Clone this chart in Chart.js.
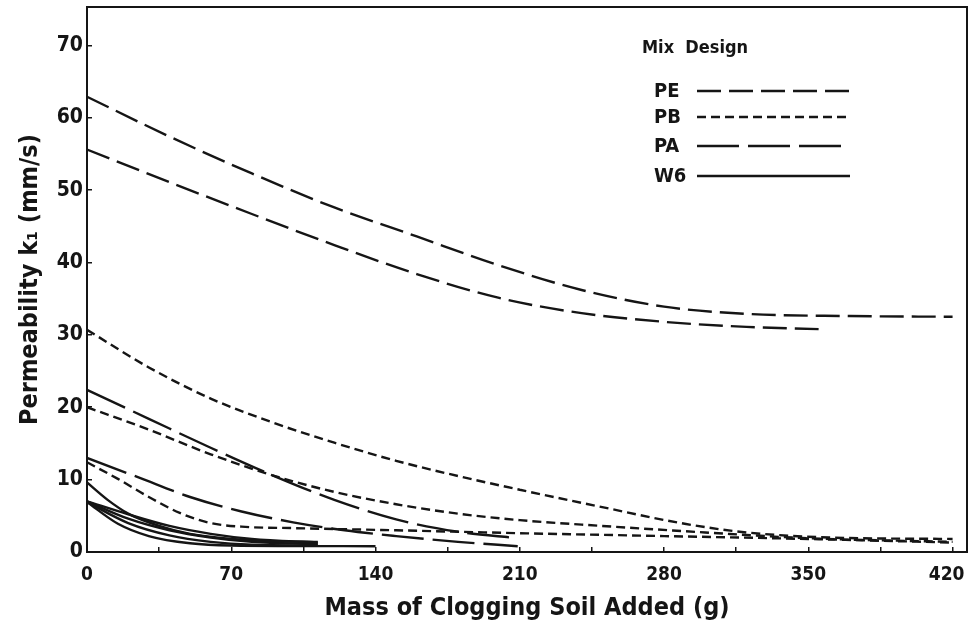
<!DOCTYPE html>
<html>
<head>
<meta charset="utf-8">
<script src="https://cdn.jsdelivr.net/npm/chart.js@4.4.1/dist/chart.umd.min.js"></script>
<style>
  html, body { margin: 0; padding: 0; background: #fff; }
  #wrap { width: 968px; height: 639px; }
</style>
</head>
<body>
<div id="wrap"><canvas id="permChart" width="968" height="639"></canvas></div>
<script>
// axis ticks
const xTicks = [0, 70, 140, 210, 280, 350, 420];
const xMinorTicks = [35, 105, 175, 245, 315, 385];
const yTicks = [0, 10, 20, 30, 40, 50, 60, 70];

// mix designs (legend order)
const mixNames = ["PE", "PB", "PA", "W6"];

// curves: [mass (g), k1 (mm/s)]
const peUpper = [[0, 62.9], [40, 57.4], [80, 52.3], [120, 47.6], [160, 43.6], [200, 39.6], [240, 36.2], [280, 33.9], [320, 32.9], [370, 32.6], [420, 32.5]];
const peLower = [[0, 55.6], [40, 51.1], [80, 46.7], [120, 42.4], [160, 38.4], [200, 35.1], [240, 33.0], [280, 31.8], [320, 31.1], [355, 30.8]];

const pbTop = [[0, 30.7], [30, 25.5], [60, 21.2], [90, 17.9], [120, 15.1], [150, 12.6], [180, 10.5], [210, 8.6], [250, 6.2], [290, 3.9], [320, 2.7], [360, 2.0], [420, 1.8]];
const pbMid = [[0, 20.0], [30, 16.9], [60, 13.5], [90, 10.6], [120, 8.3], [150, 6.6], [180, 5.3], [210, 4.4], [250, 3.6], [300, 2.7], [350, 1.9], [420, 1.4]];
const pbLow = [[0, 12.4], [15, 10.1], [30, 7.6], [45, 5.4], [60, 4.0], [75, 3.5], [100, 3.3], [150, 3.0], [210, 2.6], [280, 2.2], [350, 1.8], [420, 1.3]];

const paUpper = [[0, 22.4], [30, 18.4], [60, 14.4], [90, 10.6], [120, 7.2], [150, 4.5], [180, 2.8], [209, 1.9]];
const paLower = [[0, 13.0], [25, 10.3], [50, 7.6], [75, 5.6], [100, 4.1], [125, 3.0], [150, 2.2], [180, 1.4], [209, 0.8]];

const w6a = [[0, 9.6], [10, 7.2], [20, 5.3], [35, 3.6], [50, 2.5], [70, 1.8], [90, 1.5], [112, 1.4]];
const w6b = [[0, 7.0], [20, 5.2], [40, 3.6], [60, 2.5], [80, 1.8], [112, 1.3]];
const w6c = [[0, 7.0], [20, 4.6], [40, 3.0], [60, 2.0], [80, 1.4], [112, 1.1]];
const w6d = [[0, 6.9], [20, 4.0], [40, 2.3], [60, 1.4], [80, 1.0], [112, 0.9]];
const w6e = [[0, 6.9], [15, 3.9], [30, 2.2], [50, 1.2], [70, 0.9], [140, 0.8]];

const INK = "#151515";
const FONT = "'DejaVu Sans Condensed', 'Liberation Sans Narrow', sans-serif";

// dash style per mix design
const dashes = { PE: [24, 8], PB: [9, 5], PA: [42, 9], W6: [] };

const curves = [
  { mix: "PE", pts: peUpper }, { mix: "PE", pts: peLower },
  { mix: "PB", pts: pbTop }, { mix: "PB", pts: pbMid }, { mix: "PB", pts: pbLow },
  { mix: "PA", pts: paUpper }, { mix: "PA", pts: paLower },
  { mix: "W6", pts: w6a }, { mix: "W6", pts: w6b }, { mix: "W6", pts: w6c },
  { mix: "W6", pts: w6d }, { mix: "W6", pts: w6e },
];

const datasets = curves.map((c) => ({
  label: c.mix,
  data: c.pts.map((p) => ({ x: p[0], y: p[1] })),
  borderColor: INK,
  borderWidth: 2.4,
  borderDash: dashes[c.mix],
  pointRadius: 0,
  fill: false,
  cubicInterpolationMode: "monotone",
}));

// frame around the plot and the "Mix Design" key
const framePlugin = {
  id: "frameAndKey",
  afterDraw(chart) {
    const { ctx, chartArea: a } = chart;
    ctx.save();
    ctx.strokeStyle = INK;
    ctx.lineWidth = 2;
    ctx.setLineDash([]);
    ctx.strokeRect(a.left, a.top, a.right - a.left, a.bottom - a.top);

    // key
    ctx.fillStyle = INK;
    ctx.textBaseline = "middle";
    ctx.textAlign = "left";
    ctx.font = "bold 18px " + FONT;
    ctx.fillText("Mix  Design", a.right - 325, a.top + 41);
    const rowY = [84, 110, 139, 169];
    ctx.font = "bold 20px " + FONT;
    mixNames.forEach((name, i) => {
      const y = a.top + rowY[i];
      ctx.fillText(name, a.right - 313, y + 1);
      ctx.beginPath();
      ctx.lineWidth = 2.4;
      ctx.setLineDash(dashes[name]);
      ctx.moveTo(a.right - 270, y);
      ctx.lineTo(a.right - 117, y);
      ctx.stroke();
    });
    ctx.restore();
  },
};

const ctx = document.getElementById("permChart").getContext("2d");
new Chart(ctx, {
  type: "line",
  data: { datasets },
  options: {
    responsive: false,
    animation: false,
    layout: { padding: { top: 7, right: 1, left: 0, bottom: 0 } },
    plugins: {
      legend: { display: false },
      tooltip: { enabled: false },
    },
    scales: {
      x: {
        type: "linear",
        min: 0,
        max: 427,
        afterBuildTicks: (scale) => {
          scale.ticks = xTicks.concat(xMinorTicks).sort((a, b) => a - b).map((v) => ({ value: v }));
        },
        afterFit: (scale) => {
          scale.height = 87;
          scale.paddingLeft = 0;
          scale.paddingRight = 0;
        },
        ticks: {
          color: INK,
          font: { family: FONT, size: 19, weight: "bold" },
          padding: 17,
          maxRotation: 0,
          autoSkip: false,
          // last label nudged left so it stays on the page, as in the original
          callback: (v) => {
            if (!xTicks.includes(v)) return "";
            return v === xTicks[xTicks.length - 1] ? v + "  " : String(v);
          },
        },
        // tick marks point into the plot
        grid: { display: true, drawOnChartArea: false, tickLength: -5, color: INK, lineWidth: 1.5 },
        border: { display: false },
        title: {
          display: true,
          text: "Mass of Clogging Soil Added (g)",
          color: INK,
          font: { family: FONT, size: 25, weight: "bold" },
          padding: { top: 4, bottom: 16 },
        },
      },
      y: {
        type: "linear",
        min: 0,
        max: 75.3,
        afterBuildTicks: (scale) => {
          scale.ticks = yTicks.map((v) => ({ value: v }));
        },
        afterFit: (scale) => {
          scale.width = 87;
          scale.paddingTop = 0;
          scale.paddingBottom = 0;
        },
        ticks: {
          color: INK,
          font: { family: FONT, size: 21, weight: "bold" },
          padding: 9,
        },
        grid: { display: true, drawOnChartArea: false, tickLength: -5, color: INK, lineWidth: 1.5 },
        border: { display: false },
        title: {
          display: true,
          text: "Permeability k\u2081 (mm/s)",
          color: INK,
          font: { family: FONT, size: 25, weight: "bold" },
          padding: { top: 15, bottom: 4 },
        },
      },
    },
  },
  plugins: [framePlugin],
});
</script>
</body>
</html>
